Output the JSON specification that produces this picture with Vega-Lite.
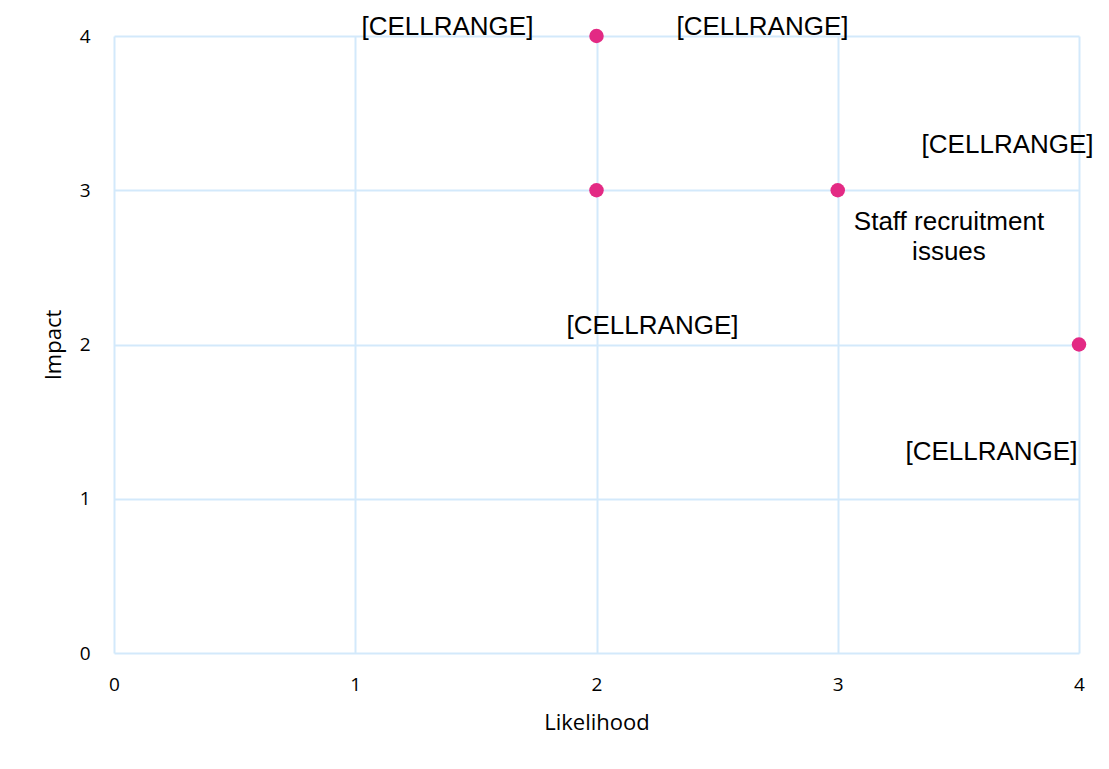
{
  "$schema": "https://vega.github.io/schema/vega-lite/v6.json",
  "width": 965,
  "height": 617,
  "autosize": {"type": "none"},
  "padding": {"left": 114, "top": 36, "right": 30, "bottom": 116},
  "background": "white",
  "config": {
    "view": {"stroke": null},
    "axis": {
      "grid": true,
      "gridColor": "#D3E9FB",
      "gridWidth": 2,
      "domain": false,
      "ticks": false,
      "labelFont": "Open Sans",
      "labelFontSize": 19,
      "labelColor": "#000000",
      "labelFlush": false,
      "format": "d",
      "titleFont": "Open Sans",
      "titleFontSize": 22,
      "titleFontWeight": "normal",
      "titleColor": "#000000"
    }
  },
  "datasets": {
    "points": [
      {"Likelihood": 2, "Impact": 4},
      {"Likelihood": 2, "Impact": 3},
      {"Likelihood": 3, "Impact": 3},
      {"Likelihood": 4, "Impact": 2}
    ],
    "labels": [
      {"lx": 1.382, "ly": 4.058, "label": ["[CELLRANGE]"]},
      {"lx": 2.688, "ly": 4.058, "label": ["[CELLRANGE]"]},
      {"lx": 3.704, "ly": 3.293, "label": ["[CELLRANGE]"]},
      {"lx": 3.461, "ly": 2.794, "label": ["Staff recruitment", "issues"]},
      {"lx": 2.232, "ly": 2.12, "label": ["[CELLRANGE]"]},
      {"lx": 3.637, "ly": 1.303, "label": ["[CELLRANGE]"]}
    ]
  },
  "layer": [
    {
      "data": {"name": "points"},
      "mark": {"type": "circle", "size": 210, "opacity": 1, "color": "#E32A84"},
      "encoding": {
        "x": {
          "field": "Likelihood",
          "type": "quantitative",
          "scale": {"domain": [0, 4], "nice": false},
          "axis": {"values": [0, 1, 2, 3, 4], "labelPadding": 22, "titlePadding": 18, "title": "Likelihood"}
        },
        "y": {
          "field": "Impact",
          "type": "quantitative",
          "scale": {"domain": [0, 4], "nice": false},
          "axis": {"values": [0, 1, 2, 3, 4], "labelPadding": 24, "titlePadding": 14, "title": "Impact"}
        }
      }
    },
    {
      "data": {"name": "labels"},
      "mark": {
        "type": "text",
        "font": "Liberation Sans",
        "fontSize": 26,
        "lineHeight": 30,
        "align": "center",
        "baseline": "middle",
        "color": "#000000"
      },
      "encoding": {
        "x": {"field": "lx", "type": "quantitative"},
        "y": {"field": "ly", "type": "quantitative"},
        "text": {"field": "label"}
      }
    }
  ]
}
